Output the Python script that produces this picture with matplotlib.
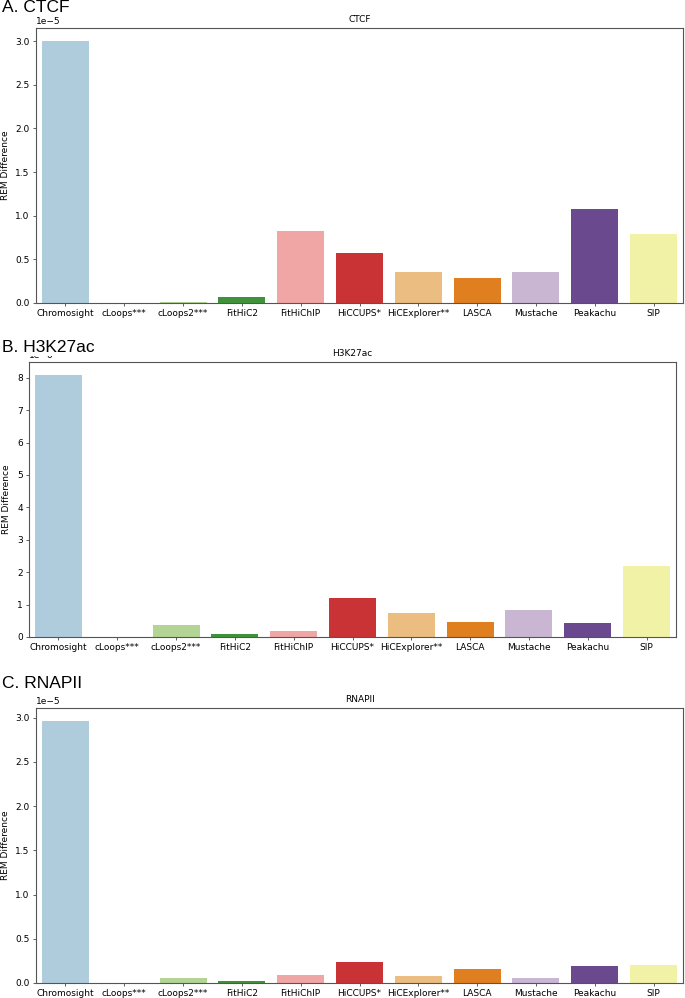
import matplotlib
matplotlib.use("Agg")
import matplotlib.pyplot as plt
import seaborn as sns

tools = ["Chromosight", "cLoops***", "cLoops2***", "FitHiC2", "FitHiChIP",
         "HiCCUPS*", "HiCExplorer**", "LASCA", "Mustache", "Peakachu", "SIP"]

# REM difference per tool
ctcf = [3.0e-5, 0.0, 0.008e-5, 0.069e-5, 0.83e-5, 0.57e-5, 0.35e-5,
        0.29e-5, 0.35e-5, 1.08e-5, 0.785e-5]
h3k27ac = [8.08e-6, 0.0, 0.38e-6, 0.10e-6, 0.19e-6, 1.21e-6, 0.75e-6,
           0.45e-6, 0.84e-6, 0.42e-6, 2.18e-6]
rnapii = [2.96e-5, 0.0, 0.058e-5, 0.02e-5, 0.085e-5, 0.235e-5, 0.078e-5,
          0.155e-5, 0.06e-5, 0.195e-5, 0.205e-5]

panels = [("A. CTCF", "CTCF", ctcf),
          ("B. H3K27ac", "H3K27ac", h3k27ac),
          ("C. RNAPII", "RNAPII", rnapii)]

W, H = 685, 998
fig = plt.figure(figsize=(W / 100, H / 100), dpi=100)

# axes boxes in pixels: left, top, width, height
boxes = [(36, 28, 647, 275), (29, 362, 647, 275), (36, 708, 647, 275)]
label_y = [8, 347, 683]

for (label, title, vals), (l, t, w, h), ly in zip(panels, boxes, label_y):
    ax = fig.add_axes([l / W, 1 - (t + h) / H, w / W, h / H])
    sns.barplot(x=tools, y=vals, hue=tools, palette="Paired", legend=False, ax=ax)
    ax.set_title(title, fontsize=6.5, pad=4)
    ax.set_ylabel("REM Difference", fontsize=6.5, labelpad=4)
    ax.tick_params(labelsize=6.5, length=2.5, width=0.6, pad=2, color="#444")
    ax.yaxis.get_offset_text().set_fontsize(6.5)
    for s in ax.spines.values():
        s.set_linewidth(0.8)
        s.set_color("#555")
    # panel letter sits on top of the offset text, as in the source figure
    fig.text(2 / W, 1 - ly / H, label, fontsize=12.5, family="Liberation Sans",
             va="center", ha="left",
             bbox=dict(facecolor="white", edgecolor="none", pad=1.0))

fig.savefig("out.png", dpi=100)
